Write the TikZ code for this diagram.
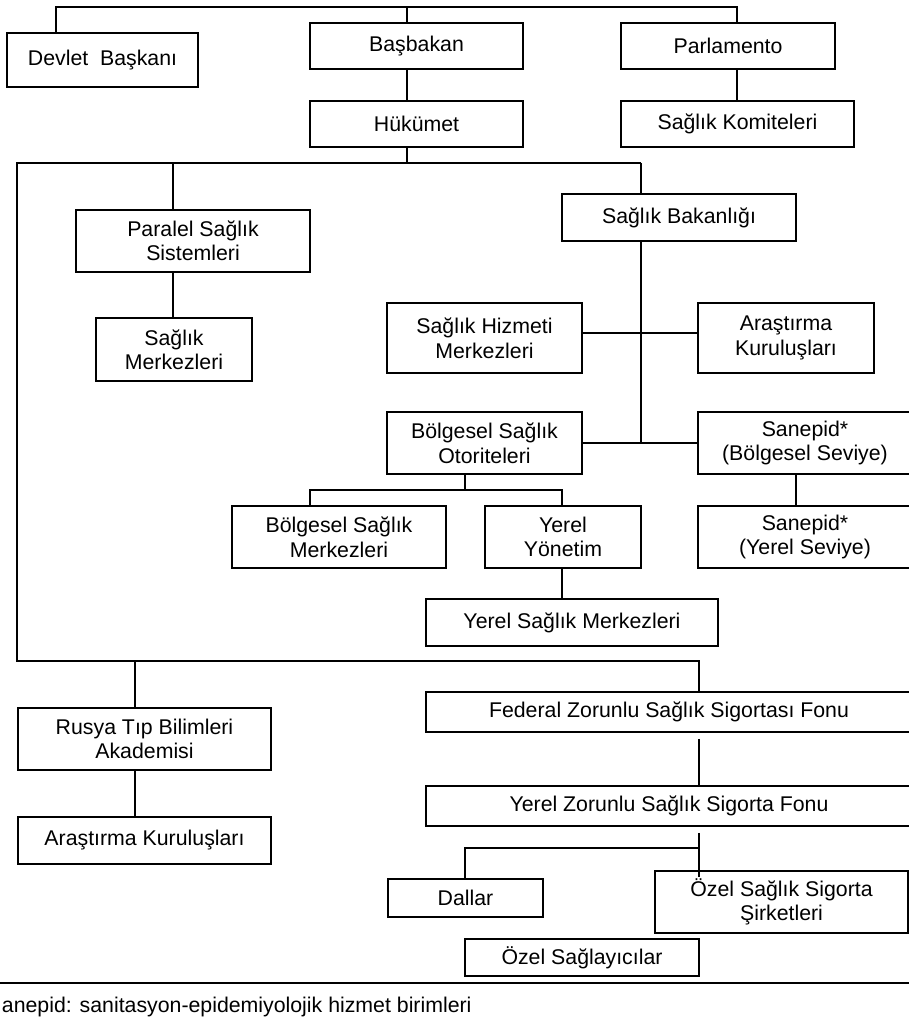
\documentclass[tikz,border=0pt]{standalone}
\usepackage{fontspec}
\setmainfont{Liberation Sans}
\begin{document}
\begin{tikzpicture}[x=1pt, y=-1pt, line width=1.9pt,
  box/.style = {shape=rectangle, draw, align=center, inner sep=0pt,
    font=\fontsize{21.3}{24.5}\selectfont}]
  \useasboundingbox (0,0) rectangle (909,1027);
  \clip (0,0) rectangle (909,1027);
  % ust kademe
  \node[box, minimum width=191, minimum height=54] (devlet) at (102.5,60) {Devlet\ \ Başkanı};
  \node[box, minimum width=213, minimum height=46] (basbakan) at (416.5,46) {Başbakan};
  \node[box, minimum width=213, minimum height=46] (hukumet) at (416.5,124) {Hükümet};
  \node[box, minimum width=214, minimum height=46] (parlamento) at (728,46) {Parlamento};
  \node[box, minimum width=233, minimum height=46] (komite) at (737.5,124) {Sağlık Komiteleri};
  % bakanlik ve paralel sistem
  \node[box, minimum width=234, minimum height=62] (paralel) at (193,241) {Paralel Sağlık\\Sistemleri};
  \node[box, minimum width=156, minimum height=63] (merkez) at (174,349.5) {Sağlık\\Merkezleri};
  \node[box, minimum width=234, minimum height=47] (bakanlik) at (679,217.5) {Sağlık Bakanlığı};
  \node[box, minimum width=195, minimum height=70] (hizmet) at (484.5,338) {Sağlık Hizmeti\\Merkezleri};
  \node[box, minimum width=176, minimum height=70] (arastirma) at (786,338) {Araştırma\\Kuruluşları};
  \node[box, minimum width=195, minimum height=62] (otorite) at (484.5,443) {Bölgesel Sağlık\\Otoriteleri};
  \node[box, minimum width=214, minimum height=62] (sanepidB) at (805,443) {Sanepid*\\(Bölgesel Seviye)};
  \node[box, minimum width=214, minimum height=62] (sanepidY) at (805,537) {Sanepid*\\(Yerel Seviye)};
  \node[box, minimum width=214, minimum height=62] (bmerkez) at (339,537) {Bölgesel Sağlık\\Merkezleri};
  \node[box, minimum width=156, minimum height=62] (yonetim) at (563,537) {Yerel\\Yönetim};
  \node[box, minimum width=292, minimum height=47] (ysm) at (572,622.5) {Yerel Sağlık Merkezleri};
  % alt kademe
  \node[box, minimum width=253, minimum height=62] (rusya) at (144.5,739) {Rusya Tıp Bilimleri\\Akademisi};
  \node[box, minimum width=253, minimum height=47] (arastirma2) at (144.5,840.5) {Araştırma Kuruluşları};
  \node[box, minimum width=486, minimum height=40] (federal) at (669,712) {Federal Zorunlu Sağlık Sigortası Fonu};
  \node[box, minimum width=486, minimum height=40] (yerelfon) at (669,806) {Yerel Zorunlu Sağlık Sigorta Fonu};
  \node[box, minimum width=155, minimum height=38] (dallar) at (465.5,898) {Dallar};
  \node[box, minimum width=253, minimum height=62] (ozelsig) at (781.5,902) {Özel Sağlık Sigorta\\Şirketleri};
  \node[box, minimum width=234, minimum height=37] (ozelsag) at (582,957.5) {Özel Sağlayıcılar};
  % baglantilar
  \coordinate (u1) at (56,7);
  \coordinate (u2) at (407,7);
  \coordinate (u3) at (737,7);
  \draw (devlet.north -| u1) -- (u1) -- (u3) -- (parlamento.north -| u3);
  \draw (u2) -- (basbakan.north -| u2);
  \draw (basbakan.south -| u2) -- (hukumet.north -| u2);
  \draw (parlamento.south -| u3) -- (komite.north -| u3);
  \coordinate (h1) at (407,163);
  \coordinate (h2) at (173,163);
  \coordinate (h3) at (641,163);
  \coordinate (sol) at (17,163);
  \coordinate (solalt) at (17,661);
  \coordinate (a1) at (135,661);
  \coordinate (a2) at (699,661);
  \draw (hukumet.south -| h1) -- (h1);
  \draw (h3) -- (sol) -- (solalt) -- (a2) -- (federal.north -| a2);
  \draw (h2) -- (paralel.north -| h2);
  \draw (paralel.south -| h2) -- (merkez.north -| h2);
  \draw (h3) -- (bakanlik.north -| h3);
  \coordinate (b1) at (641,443);
  \coordinate (b2) at (641,333);
  \draw (bakanlik.south -| h3) -- (b1);
  \draw (hizmet.east |- b2) -- (arastirma.west |- b2);
  \draw (otorite.east) -- (sanepidB.west);
  \coordinate (s1) at (796,490);
  \draw (sanepidB.south -| s1) -- (sanepidY.north -| s1);
  \coordinate (o1) at (465,490);
  \coordinate (o2) at (310,490);
  \coordinate (o3) at (562,490);
  \draw (otorite.south -| o1) -- (o1);
  \draw (bmerkez.north -| o2) -- (o2) -- (o3) -- (yonetim.north -| o3);
  \draw (yonetim.south -| o3) -- (ysm.north -| o3);
  \draw (a1) -- (rusya.north -| a1);
  \draw (rusya.south -| a1) -- (arastirma2.north -| a1);
  \draw[shorten <=6pt] (federal.south -| a2) -- (yerelfon.north -| a2);
  \coordinate (f1) at (699,848);
  \coordinate (f2) at (465,848);
  \draw[shorten <=6pt] (yerelfon.south -| f1) -- (f1);
  \draw (dallar.north -| f2) -- (f2) -- (f1);
  \draw[shorten >=-7pt] (f1) -- (ozelsig.north -| f1);
  % dipnot
  \coordinate (cizgiL) at (0,983);
  \coordinate (cizgiR) at (909,983);
  \draw (cizgiL) -- (cizgiR);
  \node[anchor=base west, inner sep=0pt, font=\fontsize{21.3}{24.5}\selectfont] (dipnot) at (1,1012)
    {anepid: sanitasyon-epidemiyolojik hizmet birimleri};
\end{tikzpicture}
\end{document}
